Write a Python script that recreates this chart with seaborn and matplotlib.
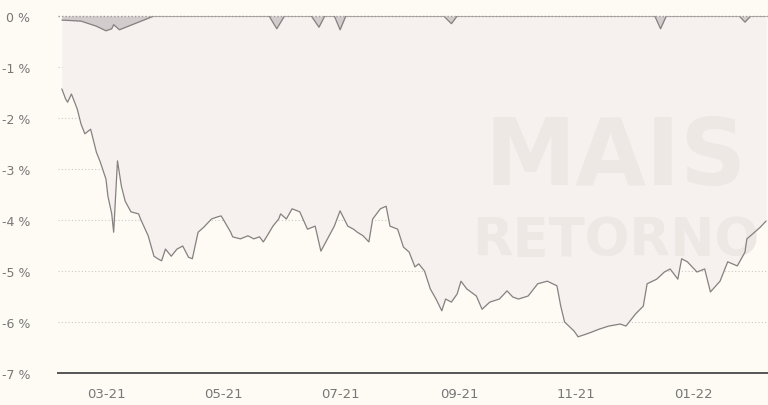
import matplotlib

matplotlib.use("Agg")

import matplotlib.dates as mdates
import matplotlib.pyplot as plt
import matplotlib.ticker as mticker
import numpy as np
import pandas as pd
import seaborn as sns

# lower series: drawdown of the benchmark (%)
low_dates = [
    "2021-02-06", "2021-02-08", "2021-02-09", "2021-02-11", "2021-02-14", "2021-02-16",
    "2021-02-18", "2021-02-21", "2021-02-24", "2021-02-26", "2021-03-01", "2021-03-02",
    "2021-03-04", "2021-03-05", "2021-03-07", "2021-03-09", "2021-03-11", "2021-03-14",
    "2021-03-18", "2021-03-19", "2021-03-23", "2021-03-26", "2021-03-28", "2021-03-30",
    "2021-04-01", "2021-04-04", "2021-04-07", "2021-04-10", "2021-04-13", "2021-04-15",
    "2021-04-18", "2021-04-21", "2021-04-25", "2021-04-28", "2021-04-30", "2021-05-01",
    "2021-05-05", "2021-05-06", "2021-05-10", "2021-05-14", "2021-05-17", "2021-05-20",
    "2021-05-22", "2021-05-24", "2021-05-27", "2021-05-30", "2021-05-31", "2021-06-03",
    "2021-06-06", "2021-06-10", "2021-06-14", "2021-06-18", "2021-06-21", "2021-06-25",
    "2021-06-28", "2021-07-01", "2021-07-05", "2021-07-08", "2021-07-10", "2021-07-13",
    "2021-07-16", "2021-07-18", "2021-07-22", "2021-07-25", "2021-07-27", "2021-07-31",
    "2021-08-03", "2021-08-06", "2021-08-09", "2021-08-11", "2021-08-14", "2021-08-17",
    "2021-08-20", "2021-08-23", "2021-08-25", "2021-08-28", "2021-08-31", "2021-09-02",
    "2021-09-05", "2021-09-10", "2021-09-13", "2021-09-17", "2021-09-22", "2021-09-26",
    "2021-09-29", "2021-10-02", "2021-10-07", "2021-10-12", "2021-10-17", "2021-10-22",
    "2021-10-24", "2021-10-26", "2021-10-31", "2021-11-02", "2021-11-06", "2021-11-09",
    "2021-11-13", "2021-11-18", "2021-11-21", "2021-11-24", "2021-11-27", "2021-12-02",
    "2021-12-06", "2021-12-08", "2021-12-13", "2021-12-17", "2021-12-20", "2021-12-24",
    "2021-12-26", "2021-12-29", "2022-01-03", "2022-01-07", "2022-01-10", "2022-01-15",
    "2022-01-19", "2022-01-24", "2022-01-28", "2022-01-29", "2022-02-02", "2022-02-05",
    "2022-02-08",
]
low_values = [
    -1.43, -1.63, -1.69, -1.53, -1.82, -2.12,
    -2.31, -2.22, -2.67, -2.86, -3.20, -3.53,
    -3.88, -4.24, -2.84, -3.33, -3.63, -3.84,
    -3.88, -3.98, -4.31, -4.71, -4.76, -4.80,
    -4.57, -4.71, -4.57, -4.51, -4.73, -4.76,
    -4.24, -4.14, -3.98, -3.94, -3.92, -3.98,
    -4.24, -4.33, -4.37, -4.31, -4.37, -4.33,
    -4.43, -4.31, -4.12, -3.98, -3.88, -3.98,
    -3.78, -3.84, -4.18, -4.12, -4.61, -4.33,
    -4.12, -3.82, -4.12, -4.18, -4.24, -4.31,
    -4.43, -3.98, -3.78, -3.73, -4.12, -4.18,
    -4.53, -4.63, -4.92, -4.86, -5.00, -5.35,
    -5.55, -5.78, -5.55, -5.61, -5.45, -5.20,
    -5.35, -5.49, -5.75, -5.61, -5.55, -5.39,
    -5.51, -5.55, -5.49, -5.25, -5.20, -5.29,
    -5.69, -6.00, -6.18, -6.29, -6.24, -6.20,
    -6.14, -6.08, -6.06, -6.04, -6.08, -5.84,
    -5.69, -5.25, -5.16, -5.02, -4.96, -5.16,
    -4.76, -4.82, -5.02, -4.96, -5.41, -5.20,
    -4.82, -4.90, -4.63, -4.37, -4.24, -4.14,
    -4.02,
]

# upper series: drawdown of the fund (%), mostly flat at zero
top_dates = [
    "2021-02-06", "2021-02-16", "2021-02-24", "2021-03-01", "2021-03-04", "2021-03-05",
    "2021-03-08", "2021-03-14", "2021-03-22", "2021-03-26", "2021-05-25", "2021-05-29",
    "2021-06-02", "2021-06-16", "2021-06-20", "2021-06-23", "2021-06-28", "2021-07-01",
    "2021-07-04", "2021-08-24", "2021-08-28", "2021-08-31", "2021-12-12", "2021-12-15",
    "2021-12-18", "2022-01-25", "2022-01-28", "2022-01-31", "2022-02-08",
]
top_values = [
    -0.08, -0.10, -0.20, -0.29, -0.25, -0.17,
    -0.27, -0.18, -0.06, 0.00, 0.00, -0.25,
    0.00, 0.00, -0.22, 0.00, 0.00, -0.27,
    0.00, 0.00, -0.15, 0.00, 0.00, -0.25,
    0.00, 0.00, -0.12, 0.00, 0.00,
]

y_ticks = [0, -1, -2, -3, -4, -5, -6, -7]

BG = "#fdfbf4"
LINE = "#858181"

sns.set_theme(style="white", rc={"figure.facecolor": BG, "axes.facecolor": BG})
plt.rcParams["font.family"] = ["Liberation Sans Narrow", "DejaVu Sans"]

low = pd.DataFrame({"date": pd.to_datetime(low_dates), "dd": low_values})
top = pd.DataFrame({"date": pd.to_datetime(top_dates), "dd": top_values})

fig = plt.figure(figsize=(7.68, 4.06), dpi=100)
ax = fig.add_axes([58 / 768, 1 - 374 / 406, 1 - 58 / 768, 357 / 406])

ax.fill_between(low["date"], 0, low["dd"], color="#f6f0ee", linewidth=0, zorder=1)
ax.fill_between(top["date"], 0, top["dd"], color="#d2cdcc", linewidth=0, zorder=2)

# faint watermark of the source, kept inside the plot area
ax.text(0.785, 0.53, "MAIS", transform=ax.transAxes, fontsize=66, fontweight="bold",
        family="DejaVu Sans", color="#eee8e5", ha="center", va="baseline", zorder=2.5)
ax.text(0.785, 0.33, "RETORNO", transform=ax.transAxes, fontsize=38, fontweight="bold",
        family="DejaVu Sans", color="#eee8e5", ha="center", va="baseline", zorder=2.5)

sns.lineplot(data=low, x="date", y="dd", ax=ax, color=LINE, linewidth=0.9, zorder=3)
sns.lineplot(data=top, x="date", y="dd", ax=ax, color=LINE, linewidth=0.9, zorder=3)

ax.set_xlim(pd.Timestamp("2021-02-04"), pd.Timestamp("2022-02-09"))
ax.set_ylim(-7, 0)
ax.set_yticks(y_ticks)
ax.yaxis.set_major_formatter(mticker.FuncFormatter(lambda v, _: f"{v:.0f} %".replace("-0 %", "0 %")))
ax.xaxis.set_major_locator(mdates.MonthLocator(bymonth=[1, 3, 5, 7, 9, 11]))
ax.xaxis.set_major_formatter(mdates.DateFormatter("%m-%y"))

ax.grid(axis="y", color="#cdc9c5", linestyle=(0, (1, 2)), linewidth=0.8)
ax.axhline(0, color="#a09c9c", linestyle=(0, (1, 1.5)), linewidth=1.0, zorder=4, clip_on=False)
ax.set_xlabel("")
ax.set_ylabel("")

for side in ["top", "right", "left"]:
    ax.spines[side].set_visible(False)
ax.spines["bottom"].set_color("#555555")
ax.spines["bottom"].set_linewidth(1.4)

ax.tick_params(axis="y", length=0, pad=20, labelsize=9, labelcolor="#777777")
ax.tick_params(axis="x", length=0, pad=10, labelsize=9.5, labelcolor="#777777")
for lbl in ax.get_yticklabels():
    lbl.set_horizontalalignment("right")

fig.savefig("out.png", dpi=100, facecolor=BG)
